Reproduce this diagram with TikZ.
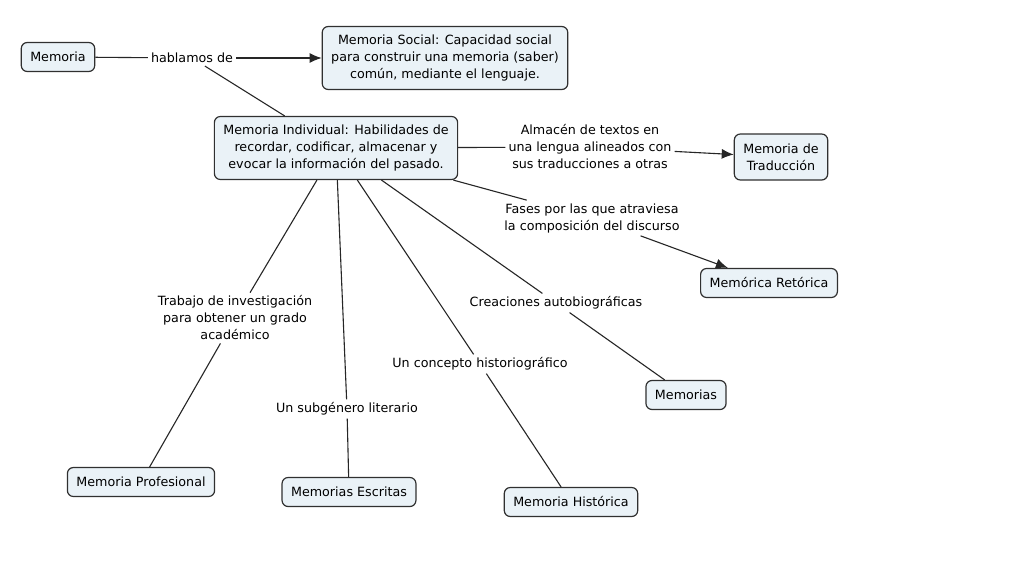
\documentclass[tikz,border=0pt]{standalone}
\usepackage{fontspec}
\setmainfont{DejaVu Sans}
\usetikzlibrary{arrows.meta}
\definecolor{boxfill}{HTML}{EAF2F7}
\definecolor{boxline}{HTML}{303030}
\begin{document}
\begin{tikzpicture}[x=1pt,y=-1pt,
  concept/.style={draw=boxline, line width=1.2pt, fill=boxfill, rounded corners=6pt,
    align=center, inner xsep=9pt, inner ysep=7pt, minimum height=29pt,
    font=\fontsize{12.7}{17}\selectfont},
  two/.style={minimum height=46pt},
  three/.style={minimum height=63pt},
  lbl/.style={align=center, inner sep=3pt, font=\fontsize{12.7}{17}\selectfont},
  link/.style={draw=black!85, line width=1.1pt},
  arr/.style={link, -{Latex[length=12pt,width=10pt]}}
]
\useasboundingbox (0,0) rectangle (1024,576);
\fill[white] (0,0) rectangle (1024,576);

\node[concept] (mem) at (58,57) {Memoria};
\node[lbl] (habl) at (192,58) {hablamos de};
\node[concept,three] (soc) at (445,58) {Memoria Social: Capacidad social\\para construir una memoria (saber)\\común, mediante el lenguaje.};
\node[concept,three] (ind) at (336,148) {Memoria Individual: Habilidades de\\recordar, codificar, almacenar y\\evocar la información del pasado.};
\node[lbl] (alm) at (590,147) {Almacén de textos en\\una lengua alineados con\\sus traducciones a otras};
\node[concept,two] (trad) at (781,157) {Memoria de\\Traducción};
\node[lbl] (fas) at (592,218) {Fases por las que atraviesa\\la composición del discurso};
\node[concept] (ret) at (769,283) {Memórica Retórica};
\node[lbl] (trab) at (235,318) {Trabajo de investigación\\para obtener un grado\\académico};
\node[concept] (prof) at (141,482) {Memoria Profesional};
\node[lbl] (sub) at (347,409) {Un subgénero literario};
\node[concept] (esc) at (349,492) {Memorias Escritas};
\node[lbl] (con) at (480,364) {Un concepto historiográfico};
\node[concept] (his) at (571,502) {Memoria Histórica};
\node[lbl] (cre) at (556,303) {Creaciones autobiográficas};
\node[concept] (mems) at (686,395) {Memorias};

\draw[link] (mem) -- (habl);
\draw[arr] (habl) -- (soc);
\draw[link] (habl) -- (ind);
\draw[link] (ind) -- (alm);
\draw[arr] (alm) -- (trad);
\draw[link] (ind) -- (fas);
\draw[arr] (fas) -- (ret);
\draw[link] (ind) -- (trab);
\draw[link] (trab) -- (prof);
\draw[link] (ind) -- (sub);
\draw[link] (sub) -- (esc);
\draw[link] (ind) -- (con);
\draw[link] (con) -- (his);
\draw[link] (ind) -- (cre);
\draw[link] (cre) -- (mems);
\end{tikzpicture}
\end{document}
